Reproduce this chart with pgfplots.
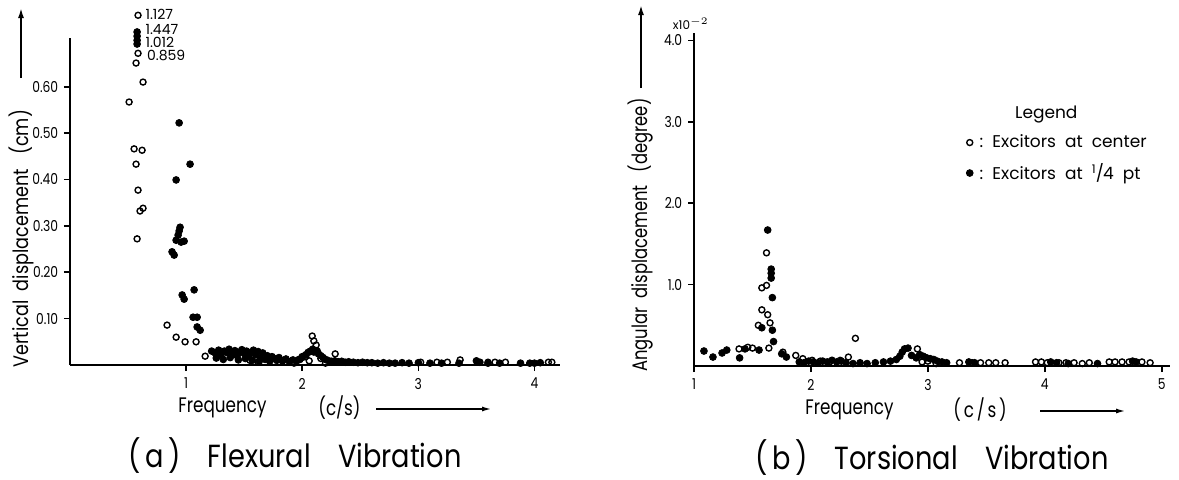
\documentclass[border=0pt]{standalone}
\usepackage{fontspec}
\setmainfont{Poppins}
\usepackage{pgfplots}
\pgfplotsset{compat=1.18}
\usetikzlibrary{arrows.meta}

\pgfplotsset{
  oldfig/.style={
    scale only axis,
    axis lines*=left,
    axis line style={line width=0.9pt,black},
    tick align=outside,
    major tick length=3pt,
    tick style={line width=0.8pt,black},
    tick label style={font=\fontsize{7.5}{8}\selectfont,xscale=0.82},
    /pgf/number format/assume math mode=true,
    clip=false,
  },
  opencirc/.style={only marks,mark=o,mark size=1.5pt,mark options={line width=0.7pt,black}},
  fullcirc/.style={only marks,mark=*,mark size=1.7pt,mark options={black,fill=black}},
}
\newcommand\narrow[1]{\scalebox{0.8}[1]{#1}}

\begin{document}
\begin{tikzpicture}
\path[use as bounding box] (0,0) rectangle (589.5pt,239.5pt);

% (a) flexural vibration
\begin{axis}[oldfig,
  at={(35pt,57pt)},anchor=south west,
  width=245pt,height=163.5pt,
  xmin=0,xmax=4.22,ymin=0,ymax=0.705,
  xtick={1,2,3,4},
  ytick={0.1,0.2,0.3,0.4,0.5,0.6},
  yticklabel style={/pgf/number format/.cd,fixed,fixed zerofill,precision=2},
]
% excitors at center
\addplot[opencirc] coordinates {
 (0.586,0.754)(0.586,0.672)(0.569,0.651)(0.629,0.610)(0.509,0.567)
 (0.552,0.466)(0.621,0.463)(0.569,0.433)(0.586,0.377)(0.603,0.332)(0.629,0.338)
 (0.578,0.272)(0.836,0.086)(0.914,0.060)(0.991,0.050)(1.086,0.050)(1.164,0.019)
 (1.55,0.010)(1.62,0.006)(1.79,0.012)(1.83,0.009)(1.93,0.004)(1.97,0.012)
 (2.00,0.016)(2.03,0.018)(2.06,0.009)(2.086,0.0625)(2.10,0.052)(2.12,0.043)
 (2.13,0.030)(2.16,0.014)(2.20,0.004)(2.284,0.024)
 (3.02,0.006)(3.16,0.006)(3.25,0.006)(3.36,0.011)(3.60,0.006)(3.66,0.006)
 (3.75,0.006)(4.12,0.006)(4.15,0.006)
};
% excitors at 1/4 point
\addplot[fullcirc] coordinates {
 (0.578,0.718)(0.578,0.709)(0.578,0.700)(0.578,0.692)
 (0.940,0.522)(1.034,0.433)(0.914,0.399)
 (0.948,0.297)(0.940,0.289)(0.931,0.280)(0.914,0.269)(0.957,0.265)(0.983,0.267)
 (0.879,0.244)(0.897,0.237)(0.966,0.151)(0.983,0.142)(1.069,0.162)
 (1.060,0.103)(1.095,0.103)(1.095,0.082)(1.121,0.075)
 (1.22,0.030)(1.25,0.026)(1.28,0.032)(1.30,0.022)(1.33,0.030)(1.35,0.027)
 (1.37,0.034)(1.40,0.024)(1.42,0.031)(1.44,0.020)(1.46,0.028)(1.48,0.033)
 (1.50,0.025)(1.52,0.030)(1.54,0.018)(1.56,0.027)(1.58,0.032)(1.60,0.022)
 (1.62,0.029)(1.64,0.015)(1.66,0.026)(1.68,0.012)(1.70,0.020)(1.72,0.008)
 (1.74,0.018)(1.76,0.014)(1.78,0.010)(1.80,0.016)(1.83,0.009)(1.86,0.013)
 (1.89,0.007)(1.92,0.011)(1.95,0.008)(1.98,0.012)(2.00,0.018)(2.03,0.022)
 (2.05,0.027)(2.07,0.030)(2.09,0.034)(2.10,0.028)(2.12,0.031)(2.14,0.024)
 (2.16,0.020)(2.18,0.016)(2.20,0.012)(2.22,0.010)(2.25,0.008)(2.28,0.009)
 (2.31,0.007)(2.34,0.008)(2.37,0.006)(2.40,0.007)
 (1.26,0.015)(1.32,0.012)(1.38,0.016)(1.45,0.011)(1.51,0.014)(1.57,0.010)(1.63,0.008)
 (2.44,0.006)(2.48,0.005)(2.52,0.006)(2.56,0.005)(2.60,0.005)(2.65,0.004)
 (2.70,0.005)(2.75,0.004)(2.80,0.004)(2.86,0.005)(2.92,0.004)(3.00,0.005)
 (3.10,0.004)(3.20,0.004)(3.35,0.004)(3.50,0.009)(3.53,0.006)(3.60,0.004)
 (3.70,0.004)(3.88,0.004)(3.96,0.004)(4.00,0.004)(4.05,0.005)
};
\begin{scope}[every node/.style={font=\fontsize{7}{7}\selectfont,anchor=west,inner sep=0pt}]
\node at (axis cs:0.647,0.756) {1.127};
\node at (axis cs:0.647,0.724) {1.447};
\node at (axis cs:0.647,0.696) {1.012};
\node at (axis cs:0.660,0.668) {0.859};
\end{scope}
\end{axis}

% (b) torsional vibration
\begin{axis}[oldfig,
  at={(347pt,56.5pt)},anchor=south west,
  width=238pt,height=166.5pt,
  xmin=1,xmax=5.07,ymin=0,ymax=4.09,
  xtick={1,2,3,4,5},
  ytick={1,2,3,4},
  yticklabel style={/pgf/number format/.cd,fixed,fixed zerofill,precision=1},
  legend style={draw=none,fill=none,at={(0.53,0.80)},anchor=north west,
    font=\fontsize{8.5}{10}\selectfont,row sep=4.5pt,
    nodes={inner sep=1pt}},
  legend cell align=left,
]
\addlegendimage{empty legend}
\addlegendentry{\hspace*{20pt}Legend}
\addplot[opencirc] coordinates {
 (1.385,0.21)(1.46,0.23)(1.50,0.22)(1.55,0.50)(1.58,0.69)(1.58,0.96)(1.62,0.99)
 (1.62,1.39)(1.63,0.63)(1.65,0.53)(1.64,0.22)(1.76,0.17)(1.87,0.13)
 (1.93,0.09)(2.01,0.07)(2.08,0.06)(2.16,0.05)(2.25,0.07)(2.32,0.11)(2.38,0.34)
 (2.91,0.21)(2.95,0.05)(3.00,0.06)(3.07,0.03)(3.27,0.04)(3.38,0.04)(3.45,0.04)
 (3.52,0.04)(3.58,0.04)(3.66,0.04)(3.92,0.05)(3.97,0.05)(4.02,0.04)(4.12,0.04)
 (4.18,0.04)(4.25,0.04)(4.32,0.03)(4.38,0.04)(4.55,0.05)(4.60,0.05)(4.66,0.05)
 (4.72,0.05)(4.83,0.05)(4.90,0.04)
};
\addlegendentry{\ :\ \ Excitors\ \ at\ \ center}
\addplot[fullcirc] coordinates {
 (1.085,0.184)(1.162,0.11)(1.24,0.16)(1.28,0.196)(1.39,0.10)(1.436,0.21)
 (1.556,0.196)(1.58,0.47)(1.63,1.67)(1.66,1.19)(1.66,1.14)(1.66,1.08)
 (1.67,0.84)(1.67,0.44)(1.68,0.30)(1.75,0.15)(1.79,0.11)
 (1.90,0.05)(1.94,0.04)(1.98,0.06)(2.02,0.05)(2.06,0.04)(2.10,0.06)(2.14,0.05)
 (2.18,0.07)(2.22,0.05)(2.26,0.06)(2.30,0.04)(2.36,0.03)(2.42,0.04)(2.48,0.03)
 (2.55,0.04)(2.62,0.05)(2.68,0.06)(2.73,0.08)(2.76,0.12)(2.78,0.17)(2.80,0.21)
 (2.83,0.22)(2.86,0.13)(2.90,0.10)(2.93,0.14)(2.96,0.12)(2.99,0.10)(3.02,0.09)
 (3.05,0.08)(3.08,0.06)(3.12,0.05)(3.16,0.04)(3.35,0.05)(3.40,0.04)
 (4.05,0.05)(4.10,0.04)(4.20,0.03)(4.45,0.03)(4.75,0.06)(4.78,0.05)
};
\addlegendentry{\ :\ \ Excitors\ \ at\ \ \textsuperscript{1}\kern-0.05em/\kern-0.05em4\ \ pt}
\node[font=\fontsize{6}{6}\selectfont,anchor=south west,inner sep=0pt]
  at (rel axis cs:-0.045,1.01) {x10$^{-2}$};
\end{axis}

% labels, arrows and captions (coordinates in pixels of the reference)
\begin{scope}[x=0.5pt,y=-0.5pt,shift={(0pt,239.5pt)}]
\node[rotate=90,anchor=west,font=\fontsize{10.5}{12}\selectfont,inner sep=0pt]
  at (21,368) {\scalebox{0.84}[1]{Vertical\ \ displacement\ \ \ (cm)}};
\draw[line width=0.9pt,-{Latex[length=5pt,width=3pt]}] (21,78) -- (21,8);
\node[rotate=90,anchor=west,font=\fontsize{10.5}{12}\selectfont,inner sep=0pt]
  at (641,372) {\scalebox{0.78}[1]{Angular\ \ displacement\ \ \ (degree)}};
\draw[line width=0.9pt,-{Latex[length=5pt,width=3pt]}] (641,88) -- (641,5);

\node[anchor=west,font=\fontsize{10.5}{12}\selectfont,inner sep=0pt]
  at (178,408) {\narrow{Frequency}};
\node[anchor=west,font=\fontsize{10.5}{12}\selectfont,inner sep=0pt]
  at (318,408) {\narrow{(c/s)}};
\draw[line width=0.9pt,-{Latex[length=5pt,width=2.5pt]}] (376,409) -- (492,409);
\node[anchor=west,font=\fontsize{10.5}{12}\selectfont,inner sep=0pt]
  at (805,410) {\narrow{Frequency}};
\node[anchor=west,font=\fontsize{10.5}{12}\selectfont,inner sep=0pt]
  at (953,410) {\narrow{(\,c\,/\,s\,)}};
\draw[line width=0.9pt,-{Latex[length=5pt,width=2.5pt]}] (1040,411) -- (1126,411);

\node[font=\fontsize{16}{18}\selectfont,inner sep=0pt]
  at (295,456) {\scalebox{0.85}[1]{(\,a\,)\quad Flexural\quad Vibration}};
\node[font=\fontsize{16}{18}\selectfont,inner sep=0pt]
  at (932,458) {\scalebox{0.85}[1]{(\,b\,)\quad Torsional\quad Vibration}};
\end{scope}
\end{tikzpicture}
\end{document}
